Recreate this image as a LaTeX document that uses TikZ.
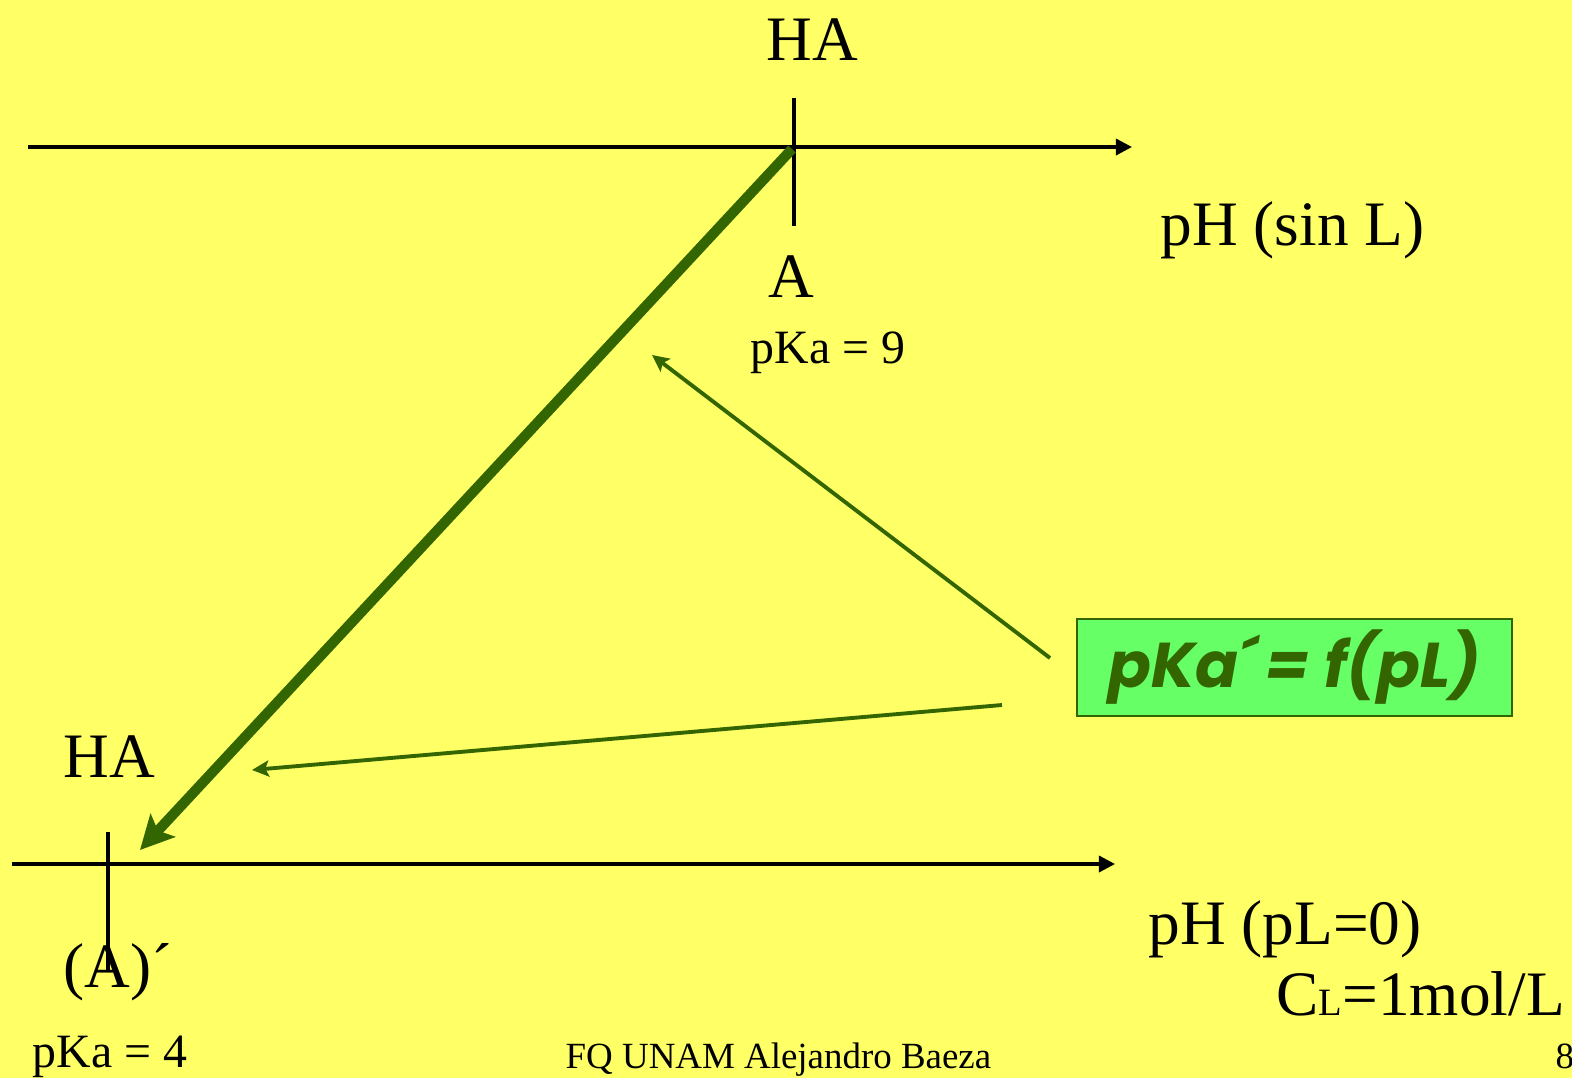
\documentclass[tikz,border=0pt]{standalone}
\usepackage{fontspec}
\setmainfont{Liberation Serif}
\newfontfamily\boxfont{Poppins}
\usetikzlibrary{arrows.meta}
\definecolor{bgyellow}{HTML}{FFFF66}
\definecolor{dkgreen}{HTML}{336600}
\definecolor{ltgreen}{HTML}{66FF66}
\newlength{\xu}\setlength{\xu}{0.01cm}
\tikzset{
  lbl/.style={anchor=base west,inner sep=0pt,font=\fontsize{18}{20}\selectfont},
  small/.style={anchor=base west,inner sep=0pt,font=\fontsize{13.6}{15}\selectfont},
  axis/.style={line width=0.95pt,-{Triangle[length=4.6pt,width=4.6pt]}},
  tick/.style={line width=0.95pt},
  bigarrow/.style={dkgreen,line width=2.9pt,-{Stealth[length=9.5pt,width=9.5pt,inset=2pt]}},
  thinarrow/.style={dkgreen,line width=1.1pt,-{Stealth[length=4.8pt,width=4.6pt,inset=1pt]}},
  fbox/.style={draw=dkgreen,fill=ltgreen,line width=0.7pt,minimum width=435\xu,minimum height=97\xu,inner sep=0pt,
     text=dkgreen,font=\boxfont\bfseries\itshape\fontsize{18}{22}\selectfont}
}
\begin{document}
\begin{tikzpicture}[x=0.01cm,y=-0.01cm]
\fill[bgyellow] (0,0) rectangle (1572,1078);
\useasboundingbox (0,0) rectangle (1572,1078);
% axes
\coordinate (ax1s) at (28,147);
\coordinate (ax1e) at (1132,147);
\coordinate (ax2s) at (12,864);
\coordinate (ax2e) at (1115,864);
\draw[axis] (ax1s) -- (ax1e);
\draw[axis] (ax2s) -- (ax2e);
\coordinate (t1a) at (794,98);
\coordinate (t1b) at (794,226);
\coordinate (t2a) at (108,832);
\coordinate (t2b) at (108,970);
\draw[tick] (t1a) -- (t1b);
\draw[tick] (t2a) -- (t2b);
% big arrow
\coordinate (bs) at (792,149);
\coordinate (be) at (140,850);
\draw[bigarrow] (bs) -- (be);
% box
\node[fbox] (fb) at (1294.5,667.5) {pKa´\,= f(pL)};
% thin arrows
\coordinate (s1) at (1050,658);
\coordinate (e1) at (652,355);
\coordinate (s2) at (1002,705);
\coordinate (e2) at (252,770);
\draw[thinarrow] (s1) -- (e1);
\draw[thinarrow] (s2) -- (e2);
% labels
\node[lbl] (ha1) at (766,60) {HA};
\node[lbl] (phsin) at (1160,245) {pH (sin L)};
\node[lbl] (a1) at (768,297) {A};
\node[small] (pk9) at (750,363) {pKa = 9};
\node[lbl] (ha2) at (63,777) {HA};
\node[lbl] (a2) at (63,987) {(A)´};
\node[small] (pk4) at (32,1067) {pKa = 4};
\node[lbl] (phpl) at (1148,944) {pH (pL=0)};
\node[lbl] (cl) at (1276,1015) {C{\fontsize{11}{12}\selectfont L}=1mol/L};
\node[anchor=base west,inner sep=0pt,font=\fontsize{10.5}{12}\selectfont] (foot) at (565,1068) {FQ UNAM Alejandro Baeza};
\node[anchor=base west,inner sep=0pt,font=\fontsize{10.5}{12}\selectfont] (pg) at (1555,1068) {8};
\end{tikzpicture}
\end{document}
